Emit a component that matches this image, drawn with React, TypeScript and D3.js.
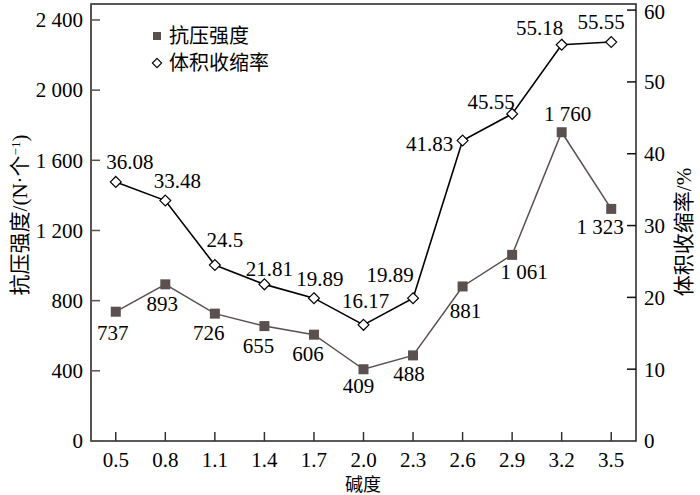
import React, { useRef, useEffect } from "react";
import * as d3 from "d3";

const alkalinity = ["0.5", "0.8", "1.1", "1.4", "1.7", "2.0", "2.3", "2.6", "2.9", "3.2", "3.5"];
const strength = [737, 893, 726, 655, 606, 409, 488, 881, 1061, 1760, 1323];
const shrinkage = [36.08, 33.48, 24.5, 21.81, 19.89, 16.17, 19.89, 41.83, 45.55, 55.18, 55.55];
const strengthTicks = [0, 400, 800, 1200, 1600, 2000, 2400];
const shrinkTicks = [0, 10, 20, 30, 40, 50, 60];

// label offsets (dx, dy) relative to each point
const strengthOffsets = [
  [-3, 21], [-3, 19], [-6, 19], [-6, 20], [-6, 19], [-5, 16], [-4, 18], [3, 24], [12, 17], [6, -19], [-11, 18],
];
const shrinkOffsets = [
  [14, -20], [12, -20], [10, -25], [5, -16], [6, -20], [2, -24], [-23, -24], [-33, 3], [-21, -12], [-22, -17], [-10, -20],
];

const fmt = (v) => {
  const s = String(v);
  if (v >= 1000 && Number.isInteger(v)) return s.slice(0, s.length - 3) + " " + s.slice(-3);
  return s;
};

const SERIF = "'Liberation Serif', 'Noto Sans CJK SC', serif";
const CJK = "'Noto Sans CJK SC', sans-serif";

const App = () => {
  const ref = useRef(null);

  useEffect(() => {
    const svg = d3.select(ref.current);
    svg.selectAll("*").remove();

    const left = 91, right = 636, top = 4, bottom = 441;

    const x = d3.scalePoint().domain(alkalinity).range([left, right]).padding(0.5);
    const yL = d3.scaleLinear().domain([0, 2491]).range([bottom, top]);
    const yR = d3.scaleLinear().domain([0, 60.85]).range([bottom, top]);

    // frame
    svg.append("rect")
      .attr("x", left).attr("y", top)
      .attr("width", right - left).attr("height", bottom - top)
      .attr("fill", "none").attr("stroke", "#222").attr("stroke-width", 1.5);
    svg.append("line")
      .attr("x1", left).attr("x2", left).attr("y1", top).attr("y2", bottom)
      .attr("stroke", "#5a5050").attr("stroke-width", 1.5);

    // left ticks
    const gl = svg.append("g");
    strengthTicks.forEach((t) => {
      if (t > 0) {
        gl.append("line")
          .attr("x1", left).attr("x2", left + 9)
          .attr("y1", yL(t)).attr("y2", yL(t))
          .attr("stroke", "#5a5050").attr("stroke-width", 1.5);
      }
      gl.append("text")
        .attr("x", 83).attr("y", yL(t))
        .attr("dy", "0.35em").attr("text-anchor", "end")
        .attr("font-family", SERIF).attr("font-size", 21)
        .text(fmt(t));
    });

    // right ticks
    const gr = svg.append("g");
    shrinkTicks.forEach((t) => {
      if (t > 0) {
        gr.append("line")
          .attr("x1", right - 9).attr("x2", right)
          .attr("y1", yR(t)).attr("y2", yR(t))
          .attr("stroke", "#111").attr("stroke-width", 1.5);
      }
      gr.append("text")
        .attr("x", 644).attr("y", Math.max(yR(t), 12))
        .attr("dy", "0.35em").attr("text-anchor", "start")
        .attr("font-family", SERIF).attr("font-size", 21)
        .text(t);
    });

    // x ticks
    const gx = svg.append("g");
    alkalinity.forEach((c) => {
      gx.append("line")
        .attr("x1", x(c)).attr("x2", x(c))
        .attr("y1", bottom - 9).attr("y2", bottom)
        .attr("stroke", "#333").attr("stroke-width", 1.5);
      gx.append("text")
        .attr("x", x(c)).attr("y", 460)
        .attr("dy", "0.35em").attr("text-anchor", "middle")
        .attr("font-family", SERIF).attr("font-size", 21)
        .text(c);
    });

    // axis titles
    svg.append("text")
      .attr("x", 363).attr("y", 485)
      .attr("dy", "0.35em").attr("text-anchor", "middle")
      .attr("font-family", CJK).attr("font-size", 18)
      .text("碱度");

    const lt = svg.append("text")
      .attr("transform", "translate(20,215) rotate(-90)")
      .attr("dy", "0.35em").attr("text-anchor", "middle")
      .attr("font-family", SERIF).attr("font-size", 21);
    lt.append("tspan").attr("font-family", CJK).text("抗压强度");
    lt.append("tspan").text("/(N·");
    lt.append("tspan").attr("font-family", CJK).text("个");
    lt.append("tspan").attr("font-size", 13).attr("dy", "-0.6em").text("−1");
    lt.append("tspan").attr("dy", "0.35em").text(")");

    const rt = svg.append("text")
      .attr("transform", "translate(684,232) rotate(-90)")
      .attr("dy", "0.35em").attr("text-anchor", "middle")
      .attr("font-family", SERIF).attr("font-size", 21);
    rt.append("tspan").attr("font-family", CJK).text("体积收缩率");
    rt.append("tspan").text("/%");

    // strength series
    const lineL = d3.line().x((d, i) => x(alkalinity[i])).y((d) => yL(d));
    svg.append("path")
      .datum(strength)
      .attr("fill", "none").attr("stroke", "#5a5050").attr("stroke-width", 1.5)
      .attr("d", lineL);
    svg.append("g").selectAll("rect")
      .data(strength).join("rect")
      .attr("x", (d, i) => x(alkalinity[i]) - 5)
      .attr("y", (d) => yL(d) - 5)
      .attr("width", 10).attr("height", 10)
      .attr("fill", "#5a5050");
    svg.append("g").selectAll("text")
      .data(strength).join("text")
      .attr("x", (d, i) => x(alkalinity[i]) + strengthOffsets[i][0])
      .attr("y", (d, i) => yL(d) + strengthOffsets[i][1])
      .attr("dy", "0.35em").attr("text-anchor", "middle")
      .attr("font-family", SERIF).attr("font-size", 21)
      .text((d) => fmt(d));

    // shrinkage series
    const lineR = d3.line().x((d, i) => x(alkalinity[i])).y((d) => yR(d));
    svg.append("path")
      .datum(shrinkage)
      .attr("fill", "none").attr("stroke", "#000").attr("stroke-width", 1.6)
      .attr("d", lineR);
    const diamond = d3.symbol().type(d3.symbolDiamond2).size(75);
    svg.append("g").selectAll("path")
      .data(shrinkage).join("path")
      .attr("transform", (d, i) => `translate(${x(alkalinity[i])},${yR(d)})`)
      .attr("d", diamond)
      .attr("fill", "#fff").attr("stroke", "#000").attr("stroke-width", 1.2);
    svg.append("g").selectAll("text")
      .data(shrinkage).join("text")
      .attr("x", (d, i) => x(alkalinity[i]) + shrinkOffsets[i][0])
      .attr("y", (d, i) => yR(d) + shrinkOffsets[i][1])
      .attr("dy", "0.35em").attr("text-anchor", "middle")
      .attr("font-family", SERIF).attr("font-size", 21)
      .text((d) => d);

    // legend
    const lg = svg.append("g");
    lg.append("rect").attr("x", 153).attr("y", 32).attr("width", 8).attr("height", 8).attr("fill", "#5a5050");
    lg.append("text").attr("x", 169).attr("y", 36).attr("dy", "0.35em")
      .attr("font-family", CJK).attr("font-size", 20).text("抗压强度");
    lg.append("path")
      .attr("transform", "translate(157,63)")
      .attr("d", d3.symbol().type(d3.symbolDiamond2).size(55))
      .attr("fill", "#fff").attr("stroke", "#000").attr("stroke-width", 1.1);
    lg.append("text").attr("x", 169).attr("y", 63).attr("dy", "0.35em")
      .attr("font-family", CJK).attr("font-size", 20).text("体积收缩率");
  }, []);

  return (
    <svg
      ref={ref}
      width={700}
      height={495}
      style={{ position: "absolute", left: 0, top: 0, background: "#fff" }}
    />
  );
};

export default App;
